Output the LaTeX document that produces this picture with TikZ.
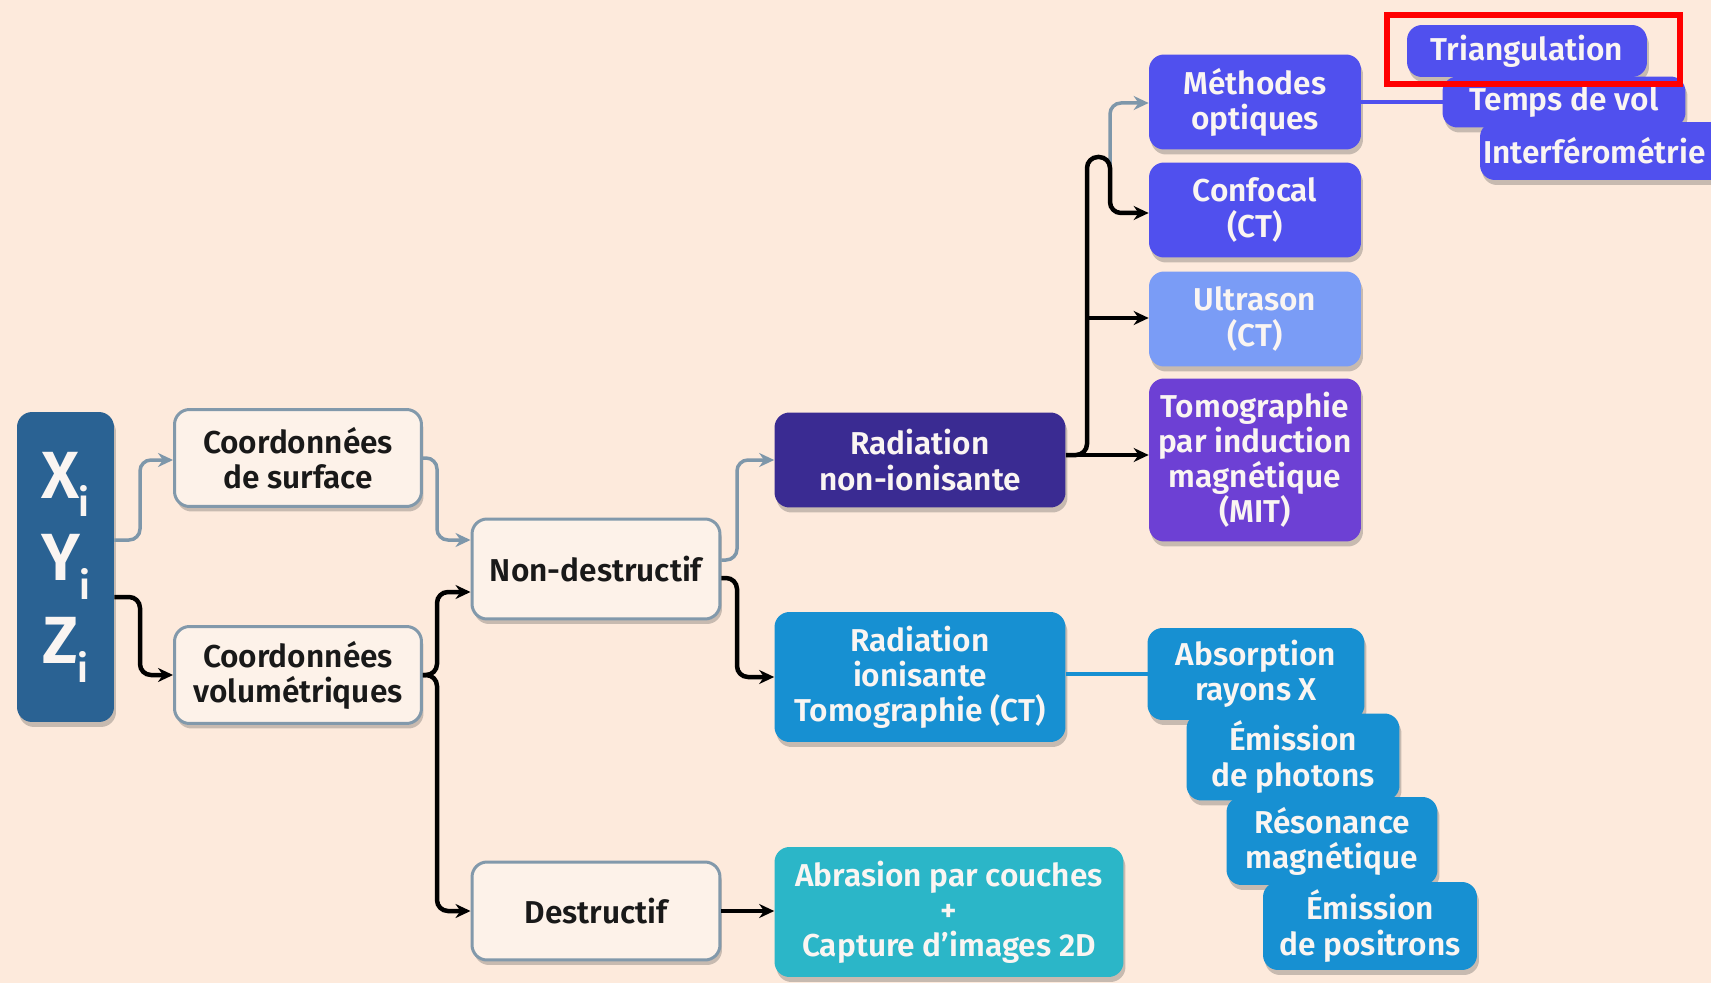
\documentclass[tikz,border=0pt]{standalone}
\usepackage{fontspec}
\setmainfont{Fira Sans}[BoldFont={Fira Sans SemiBold}]
\usetikzlibrary{arrows.meta,shadows}
\definecolor{bg}{HTML}{FDEADC}
\definecolor{lightfill}{HTML}{FDF2E9}
\definecolor{lightborder}{HTML}{8299AB}
\definecolor{conngray}{HTML}{7E97AA}
\definecolor{xyzblue}{HTML}{2A6293}
\definecolor{indigo}{HTML}{3A2B92}
\definecolor{optblue}{HTML}{5050EE}
\definecolor{ultra}{HTML}{7A9CF6}
\definecolor{mitpurple}{HTML}{6D40D4}
\definecolor{ionblue}{HTML}{1790D2}
\definecolor{teal}{HTML}{2BB6C8}
\definecolor{txtwhite}{HTML}{FAF5F2}
\tikzset{
  box/.style={rounded corners=0.3cm, align=center, inner sep=0pt,
    font=\bfseries\fontsize{18}{20}\selectfont,
    drop shadow={shadow xshift=0.04cm, shadow yshift=-0.1cm, opacity=0.3, fill=black!70}},
  lightbox/.style={box, fill=lightfill, draw=lightborder, line width=0.06cm, text=black!90},
  colbox/.style={box, text=txtwhite},
  gconn/.style={draw=conngray, line width=0.07cm, rounded corners=0.22cm,
    -{Stealth[length=0.3cm,width=0.28cm]}},
  bconn/.style={draw=black, line width=0.09cm, rounded corners=0.22cm,
    -{Stealth[length=0.3cm,width=0.28cm]}},
}
\newcommand{\subi}{\kern-0.5pt\raisebox{-0.28em}{\fontsize{22}{22}\selectfont i}}
\begin{document}
\begin{tikzpicture}[x=0.02cm,y=-0.02cm]
\useasboundingbox (0,0) rectangle (1711,983);
\clip (0,0) rectangle (1711,983);
\fill[bg] (0,0) rectangle (1711,983);

% nodes
\node[colbox, fill=xyzblue, minimum width=1.94cm, minimum height=6.2cm,
  font=\bfseries\fontsize{38}{41}\selectfont] (xyz) at (65.5,567)
  {X\subi\\[6pt]Y\subi\\[6pt]Z\subi};
\node[lightbox, minimum width=4.94cm, minimum height=1.94cm] (cs) at (298,458) {Coordonnées\\de surface};
\node[lightbox, minimum width=4.94cm, minimum height=1.94cm] (cv) at (298,675) {Coordonnées\\volumétriques};
\node[lightbox, minimum width=4.96cm, minimum height=2.0cm] (nd) at (596,569) {Non-destructif};
\node[lightbox, minimum width=4.96cm, minimum height=1.96cm] (de) at (596,911) {Destructif};
\node[colbox, fill=indigo, minimum width=5.82cm, minimum height=1.9cm] (rn) at (920,460) {Radiation\\non-ionisante};
\node[colbox, fill=ionblue, minimum width=5.82cm, minimum height=2.6cm] (ri) at (920,677) {Radiation\\ionisante\\Tomographie (CT)};
\node[colbox, fill=teal, minimum width=6.98cm, minimum height=2.6cm] (ab) at (949,912) {Abrasion par couches\\+\\Capture d’images 2D};

\node[colbox, fill=optblue, minimum width=4.24cm, minimum height=1.9cm] (mo) at (1255,102) {Méthodes\\optiques};
\node[colbox, fill=optblue, minimum width=4.24cm, minimum height=1.9cm] (cf) at (1255,210) {Confocal\\(CT)};
\node[colbox, fill=ultra, minimum width=4.24cm, minimum height=1.9cm] (us) at (1255,319) {Ultrason\\(CT)};
\node[colbox, fill=mitpurple, minimum width=4.24cm, minimum height=3.26cm] (mit) at (1255,460) {Tomographie\\par induction\\magnétique\\(MIT)};

% connector lines behind the small boxes
\draw[draw=optblue, line width=0.09cm] (mo.east) -- (1460,102);
\draw[draw=ionblue, line width=0.09cm] (ri.east |- 0,674) -- (1160,674);

\node[colbox, fill=optblue, minimum width=4.8cm, minimum height=1.04cm] (tri) at (1527,51) {Triangulation};
\node[colbox, fill=optblue, minimum width=4.86cm, minimum height=1.02cm] (tv) at (1564,102) {Temps de vol};
\node[colbox, fill=optblue, minimum width=5.0cm, minimum height=1.16cm, text width=5.0cm] (inf) at (1605,151) {\hspace*{-0.42cm}Interférométrie};
\draw[draw=red, line width=0.12cm] (1387,15) rectangle (1680,84);

\node[colbox, fill=ionblue, minimum width=4.34cm, minimum height=1.84cm] (ax) at (1256,674) {Absorption\\rayons X};
\node[colbox, fill=ionblue, minimum width=4.26cm, minimum height=1.74cm] (ep) at (1293,757) {Émission\\de photons};
\node[colbox, fill=ionblue, minimum width=4.22cm, minimum height=1.76cm] (rm) at (1332,841) {Résonance\\magnétique};
\node[colbox, fill=ionblue, minimum width=4.28cm, minimum height=1.76cm] (epo) at (1370,926) {Émission\\de positrons};

% connectors
\draw[gconn] (xyz.east |- 0,540) -- (140,540) -- (140,460) -- (cs.west |- 0,460);
\draw[bconn] (xyz.east |- 0,597) -- (140,597) -- (140,675) -- (cv.west);
\draw[gconn] (cs.east) -- (437,458) -- (437,540) -- (nd.west |- 0,540);
\draw[bconn] (cv.east) -- (437,675) -- (437,592) -- (nd.west |- 0,592);
\draw[bconn] (cv.east) -- (437,675) -- (437,911) -- (de.west);
\draw[gconn] (nd.east |- 0,560) -- (737,560) -- (737,460) -- (rn.west);
\draw[bconn] (nd.east |- 0,578) -- (737,578) -- (737,677) -- (ri.west);
\draw[bconn] (de.east) -- (ab.west |- de.east);

\draw[gconn] (1110,165) -- (1110,103) -- (mo.west |- 0,103);
\draw[bconn] (rn.east |- 0,455) -- (mit.west |- 0,455);
\draw[bconn] (rn.east |- 0,455) -- (1087,455) -- (1087,157) -- (1110,157) -- (1110,213) -- (cf.west |- 0,213);
\draw[bconn] (1087,318) -- (us.west |- 0,318);
\end{tikzpicture}
\end{document}
